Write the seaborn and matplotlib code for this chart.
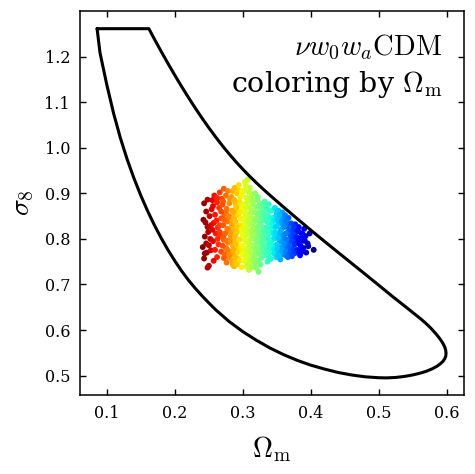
import numpy as np
import pandas as pd
import seaborn as sns
import matplotlib.pyplot as plt

# prior boundary (Omega_m, sigma_8), closed path
edge_om = [0.0857, 0.1618, 0.170, 0.180, 0.190, 0.200, 0.210, 0.220, 0.230, 0.240,
           0.250, 0.260, 0.270, 0.280, 0.290, 0.300, 0.310, 0.320, 0.330, 0.340, 0.360,
           0.380, 0.400, 0.420, 0.440, 0.460, 0.480, 0.500, 0.520, 0.540, 0.550,
           0.560, 0.568, 0.576, 0.583, 0.589, 0.5935, 0.5965, 0.598, 0.5985, 0.598,
           0.5965, 0.594, 0.590, 0.585, 0.578, 0.570, 0.561, 0.550, 0.538, 0.525,
           0.512, 0.500, 0.480, 0.460, 0.440, 0.420, 0.400, 0.380, 0.360, 0.340,
           0.320, 0.300, 0.280, 0.260, 0.250, 0.240, 0.230, 0.220, 0.210, 0.200,
           0.190, 0.180, 0.170, 0.160, 0.150, 0.140, 0.130, 0.120, 0.110, 0.100,
           0.090, 0.0857]
edge_s8 = [1.261, 1.261, 1.238, 1.2108, 1.1844, 1.1588, 1.134, 1.110, 1.0869, 1.0647,
           1.0435, 1.0233, 1.0041, 0.9859, 0.9687, 0.9525, 0.9372, 0.9227, 0.9088, 0.8954, 0.8694,
           0.844, 0.819, 0.7944, 0.7702, 0.7462, 0.7222, 0.698, 0.6735, 0.650, 0.638,
           0.6262, 0.616, 0.6045, 0.593, 0.582, 0.572, 0.5635, 0.556, 0.549, 0.5425,
           0.537, 0.5315, 0.526, 0.5205, 0.515, 0.510, 0.5058, 0.5018, 0.4985, 0.4962,
           0.4952, 0.4955, 0.4975, 0.5015, 0.507, 0.5145, 0.523, 0.5335, 0.546, 0.5605,
           0.5775, 0.5965, 0.6185, 0.6445, 0.6595, 0.675, 0.6915, 0.7095, 0.7295, 0.7515,
           0.7755, 0.8015, 0.830, 0.861, 0.895, 0.9325, 0.974, 1.021, 1.075, 1.138,
           1.208, 1.261]

# posterior samples (Omega_m, sigma_8)
om = [0.243, 0.246, 0.242, 0.248, 0.244, 0.241, 0.247, 0.243, 0.250, 0.252, 0.254, 0.251, 0.246, 0.248,
      0.249, 0.245, 0.253, 0.250, 0.244, 0.253, 0.248, 0.255,
      0.258, 0.262, 0.256, 0.265, 0.259, 0.268, 0.257, 0.263, 0.260, 0.267, 0.256, 0.264, 0.259, 0.268,
      0.262, 0.257, 0.266, 0.269, 0.261, 0.266, 0.255, 0.263,
      0.272, 0.278, 0.275, 0.283, 0.271, 0.280, 0.276, 0.284, 0.273, 0.281, 0.277, 0.271, 0.284, 0.279,
      0.274, 0.282, 0.272, 0.278, 0.285, 0.275, 0.281, 0.273, 0.279, 0.284, 0.276, 0.283, 0.270, 0.286,
      0.277, 0.283,
      0.262, 0.270, 0.275, 0.268, 0.279, 0.273, 0.266, 0.271, 0.276, 0.282, 0.270, 0.277, 0.286, 0.280,
      0.272, 0.285, 0.289, 0.290, 0.284, 0.287, 0.292, 0.289, 0.281, 0.296, 0.285, 0.293, 0.299, 0.296,
      0.297, 0.292, 0.289, 0.294, 0.287, 0.298, 0.300,
      0.288, 0.294, 0.291, 0.298, 0.287, 0.295, 0.290, 0.299, 0.286, 0.293, 0.297, 0.289, 0.295, 0.287,
      0.292, 0.299, 0.288, 0.294, 0.290, 0.297, 0.286, 0.293, 0.299, 0.289, 0.295, 0.291, 0.298, 0.296,
      0.291, 0.298,
      0.303, 0.307, 0.310, 0.302, 0.314, 0.305, 0.311, 0.301, 0.308, 0.313, 0.304, 0.310, 0.302, 0.307,
      0.314, 0.303, 0.309, 0.301, 0.312, 0.306, 0.300, 0.310, 0.304, 0.313, 0.307, 0.302, 0.311, 0.305,
      0.309, 0.314, 0.303, 0.312,
      0.304, 0.309, 0.312, 0.306, 0.315, 0.303, 0.311, 0.308, 0.316, 0.305, 0.312, 0.318, 0.306, 0.314,
      0.319, 0.303, 0.309, 0.317, 0.306, 0.311, 0.319, 0.304, 0.314, 0.318, 0.308, 0.313,
      0.318, 0.322, 0.316, 0.325, 0.320, 0.328, 0.317, 0.323, 0.329, 0.319, 0.326, 0.316, 0.322, 0.328,
      0.318, 0.325, 0.321, 0.316, 0.327, 0.319, 0.324, 0.317, 0.322, 0.326, 0.320, 0.323, 0.329, 0.315,
      0.321, 0.326, 0.324, 0.321, 0.330, 0.327, 0.323, 0.330, 0.324, 0.329, 0.322, 0.328, 0.325, 0.330,
      0.327, 0.321,
      0.332, 0.338, 0.335, 0.342, 0.331, 0.337, 0.344, 0.333, 0.340, 0.336, 0.343, 0.331, 0.338, 0.334,
      0.341, 0.337, 0.332, 0.344, 0.339, 0.334, 0.341, 0.336, 0.345, 0.330,
      0.334, 0.339, 0.333, 0.341, 0.336, 0.343, 0.339, 0.334, 0.345, 0.338, 0.342, 0.335, 0.340, 0.346,
      0.338,
      0.347, 0.352, 0.358, 0.349, 0.355, 0.346, 0.353, 0.359, 0.348, 0.356, 0.351, 0.358, 0.347, 0.354,
      0.350, 0.357, 0.346, 0.353, 0.359, 0.349, 0.355, 0.348, 0.360,
      0.350, 0.354, 0.351, 0.357, 0.350, 0.355, 0.352, 0.357, 0.351, 0.356, 0.352, 0.360, 0.361, 0.365,
      0.366, 0.362, 0.367, 0.364, 0.370, 0.371, 0.358, 0.363,
      0.362, 0.367, 0.364, 0.371, 0.361, 0.368, 0.374, 0.363, 0.370, 0.365, 0.372, 0.361, 0.368, 0.374,
      0.363, 0.369, 0.366, 0.373,
      0.377, 0.382, 0.379, 0.386, 0.376, 0.383, 0.390, 0.388, 0.378, 0.385, 0.392, 0.380, 0.387, 0.395,
      0.398, 0.404, 0.393, 0.384,
      0.375, 0.374, 0.379, 0.381, 0.376, 0.383, 0.378, 0.389, 0.386, 0.381, 0.388, 0.391, 0.396, 0.375,
      0.372, 0.383]
s8 = [0.878, 0.860, 0.842, 0.826, 0.805, 0.782, 0.770, 0.757, 0.741, 0.800, 0.865, 0.850, 0.790, 0.737,
      0.815, 0.836, 0.830, 0.786, 0.768, 0.775, 0.886, 0.885,
      0.895, 0.880, 0.872, 0.868, 0.853, 0.845, 0.835, 0.825, 0.812, 0.808, 0.795, 0.788, 0.776, 0.772,
      0.760, 0.752, 0.902, 0.888, 0.840, 0.830, 0.820, 0.800,
      0.910, 0.905, 0.895, 0.892, 0.882, 0.878, 0.866, 0.862, 0.855, 0.848, 0.838, 0.830, 0.828, 0.818,
      0.812, 0.806, 0.798, 0.792, 0.786, 0.780, 0.772, 0.766, 0.760, 0.752, 0.748, 0.770, 0.845, 0.840,
      0.822, 0.815,
      0.890, 0.875, 0.858, 0.860, 0.850, 0.842, 0.815, 0.804, 0.796, 0.796, 0.785, 0.776, 0.766, 0.764,
      0.758, 0.744, 0.752, 0.812, 0.834, 0.846, 0.862, 0.878, 0.888, 0.892, 0.905, 0.908, 0.905, 0.874,
      0.800, 0.780, 0.794, 0.756, 0.740, 0.776, 0.830,
      0.912, 0.918, 0.900, 0.896, 0.886, 0.882, 0.870, 0.866, 0.858, 0.852, 0.844, 0.838, 0.830, 0.822,
      0.816, 0.812, 0.804, 0.798, 0.788, 0.784, 0.776, 0.770, 0.766, 0.760, 0.752, 0.744, 0.738, 0.858,
      0.826, 0.822,
      0.925, 0.930, 0.912, 0.905, 0.898, 0.890, 0.884, 0.876, 0.870, 0.862, 0.856, 0.848, 0.840, 0.834,
      0.828, 0.820, 0.814, 0.806, 0.800, 0.794, 0.786, 0.780, 0.772, 0.766, 0.758, 0.752, 0.748, 0.740,
      0.732, 0.845, 0.866, 0.818,
      0.916, 0.902, 0.892, 0.880, 0.875, 0.848, 0.856, 0.842, 0.838, 0.826, 0.832, 0.818, 0.810, 0.806,
      0.798, 0.798, 0.790, 0.780, 0.778, 0.770, 0.766, 0.762, 0.756, 0.746, 0.746, 0.738,
      0.900, 0.892, 0.884, 0.878, 0.870, 0.866, 0.858, 0.852, 0.846, 0.840, 0.834, 0.826, 0.820, 0.814,
      0.806, 0.800, 0.792, 0.786, 0.782, 0.774, 0.768, 0.760, 0.752, 0.744, 0.736, 0.728, 0.826, 0.812,
      0.886, 0.870, 0.858, 0.846, 0.852, 0.840, 0.828, 0.820, 0.810, 0.804, 0.798, 0.790, 0.776, 0.770,
      0.758, 0.780,
      0.882, 0.876, 0.868, 0.862, 0.858, 0.850, 0.846, 0.840, 0.834, 0.826, 0.820, 0.816, 0.810, 0.802,
      0.796, 0.788, 0.782, 0.778, 0.770, 0.764, 0.756, 0.750, 0.800, 0.795,
      0.874, 0.862, 0.852, 0.844, 0.838, 0.832, 0.822, 0.816, 0.812, 0.798, 0.788, 0.776, 0.780, 0.768,
      0.760,
      0.868, 0.862, 0.858, 0.852, 0.846, 0.840, 0.836, 0.830, 0.826, 0.820, 0.812, 0.806, 0.802, 0.796,
      0.788, 0.782, 0.778, 0.772, 0.766, 0.760, 0.755, 0.814, 0.845,
      0.858, 0.852, 0.842, 0.838, 0.828, 0.812, 0.802, 0.794, 0.778, 0.770, 0.764, 0.808, 0.838, 0.828,
      0.814, 0.800, 0.792, 0.780, 0.776, 0.820, 0.776, 0.764,
      0.852, 0.846, 0.838, 0.834, 0.826, 0.822, 0.818, 0.812, 0.806, 0.798, 0.794, 0.790, 0.784, 0.778,
      0.772, 0.768, 0.760, 0.800,
      0.832, 0.826, 0.816, 0.812, 0.806, 0.800, 0.822, 0.796, 0.790, 0.784, 0.806, 0.776, 0.772, 0.790,
      0.812, 0.776, 0.770, 0.764,
      0.826, 0.810, 0.804, 0.796, 0.788, 0.790, 0.770, 0.780, 0.802, 0.818, 0.810, 0.796, 0.784, 0.768,
      0.762, 0.772]

samples = pd.DataFrame({"Om": om, "s8": s8})
edge = pd.DataFrame({"Om": edge_om, "s8": edge_s8})

sns.set_style("ticks")
plt.rcParams['font.family'] = ['DejaVu Serif']
plt.rcParams['mathtext.fontset'] = 'cm'
for key in ['text.color', 'axes.labelcolor', 'xtick.color', 'ytick.color', 'axes.edgecolor']:
    plt.rcParams[key] = 'black'

fig, ax = plt.subplots(figsize=(4.75, 4.74), dpi=100)
fig.subplots_adjust(left=0.168, right=0.976, bottom=0.167, top=0.977)

sns.scatterplot(data=samples, x="Om", y="s8", hue="Om", palette="jet_r",
                hue_norm=(min(om), max(om)), s=18, linewidth=0, legend=False, ax=ax, zorder=2)
sns.lineplot(data=edge, x="Om", y="s8", sort=False, estimator=None,
             color="black", lw=2.2, ax=ax, zorder=3)

ax.set_xlim(0.0603, 0.6243)
ax.set_ylim(0.458, 1.300)
ax.set_xticks([0.1, 0.2, 0.3, 0.4, 0.5, 0.6])
ax.set_yticks([0.5, 0.6, 0.7, 0.8, 0.9, 1.0, 1.1, 1.2])
ax.tick_params(direction='in', top=True, right=True, length=4, width=1,
               labelsize=11.5, pad=7)
for sp in ax.spines.values():
    sp.set_linewidth(1.1)

ax.set_xlabel(r"$\Omega_{\rm m}$", fontsize=20, labelpad=9)
ax.set_ylabel(r"$\sigma_8$", fontsize=20, labelpad=6)

ax.text(0.944, 0.905, r"$\nu w_0 w_a{\rm CDM}$", transform=ax.transAxes,
        ha='right', va='center', fontsize=20.5)
ax.text(0.944, 0.808, r"coloring by $\Omega_{\rm m}$", transform=ax.transAxes,
        ha='right', va='center', fontsize=20.5)

plt.savefig("out.png", dpi=100)
